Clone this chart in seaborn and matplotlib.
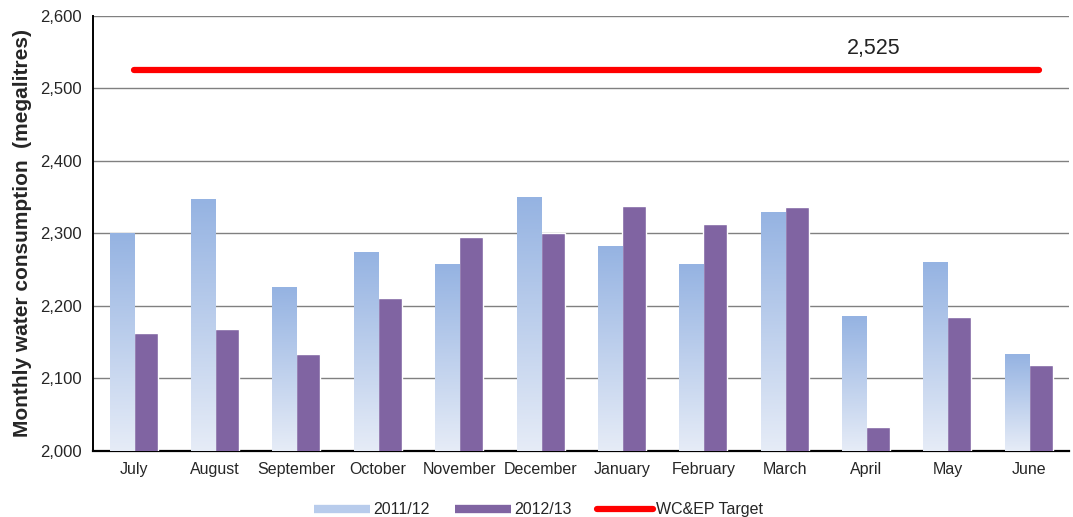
import numpy as np
import pandas as pd
import matplotlib
matplotlib.use("Agg")
import matplotlib.pyplot as plt
import seaborn as sns
from matplotlib.colors import LinearSegmentedColormap
from matplotlib.lines import Line2D
from matplotlib.ticker import FuncFormatter

months = ["July", "August", "September", "October", "November", "December",
          "January", "February", "March", "April", "May", "June"]
use_2011 = [2300, 2347, 2226, 2274, 2258, 2350, 2283, 2258, 2330, 2186, 2260, 2133]
use_2012 = [2163, 2168, 2134, 2211, 2295, 2300, 2338, 2313, 2337, 2033, 2184, 2119]
target = 2525
series = ["2011/12", "2012/13"]

df = pd.DataFrame({
    "month": months * 2,
    "value": use_2011 + use_2012,
    "year": [series[0]] * 12 + [series[1]] * 12,
})

sns.set_style("white")
plt.rcParams["font.family"] = ["Liberation Sans", "DejaVu Sans"]

fig = plt.figure(figsize=(10.73, 5.17), dpi=100)
ax = fig.add_axes([0.0867, 0.128, 0.91, 0.841])

purple = "#8064A2"
sns.barplot(data=df, x="month", y="value", hue="year", order=months,
            hue_order=series, palette=["#A5BDE5", purple], width=0.59,
            gap=0, saturation=1, legend=False, ax=ax, zorder=3)

ax.set_ylim(2000, 2600)

# gradient fill for the 2011/12 bars
grad = LinearSegmentedColormap.from_list("g", ["#E6ECF7", "#95B3E2"])
for bar in ax.containers[0]:
    x0, w, h = bar.get_x(), bar.get_width(), bar.get_height()
    img = ax.imshow(np.linspace(0, 1, 256).reshape(-1, 1), cmap=grad,
                    extent=[x0, x0 + w, 2000, h], origin="lower",
                    aspect="auto", zorder=3)
    img.set_clip_path(bar)
    bar.set_facecolor("none")
    bar.set_edgecolor("#DCE5F5")
    bar.set_linewidth(0.6)
ax.set_xlim(-0.5, 11.5)
ax.set_ylim(2000, 2600)

ax.plot([0, 11.12], [target, target], color="#FF0000", lw=4.5,
        solid_capstyle="round", zorder=4)
ax.text(9.1, 2555, "2,525", fontsize=15.5, ha="center", va="center", color="#222222")

ax.set_yticks(range(2000, 2601, 100))
ax.yaxis.set_major_formatter(FuncFormatter(lambda v, p: f"{int(v):,}"))
ax.grid(axis="y", color="#808080", lw=1, zorder=0)
ax.set_axisbelow(True)

ax.set_xticks(range(12))
ax.set_xticklabels(months, fontsize=11.5)
ax.set_xticks(np.arange(-0.5, 12, 1), minor=True)
ax.tick_params(axis="x", which="major", length=0, pad=8)
ax.tick_params(axis="x", which="minor", length=5, width=1.2, color="black", direction="out")
ax.tick_params(axis="y", length=5, width=1, color="black", direction="out",
               labelsize=12, pad=3)

for s in ["top", "right"]:
    ax.spines[s].set_visible(False)
ax.spines["left"].set_color("black")
ax.spines["left"].set_linewidth(1.4)
ax.spines["bottom"].set_color("black")
ax.spines["bottom"].set_linewidth(1.6)

ax.set_xlabel("")
ax.set_ylabel("Monthly water consumption  (megalitres)", fontsize=15,
              fontweight="bold", labelpad=6)

handles = [Line2D([], [], color="#B8CCEC", lw=6, solid_capstyle="butt"),
           Line2D([], [], color=purple, lw=6, solid_capstyle="butt"),
           Line2D([], [], color="#FF0000", lw=4.5, solid_capstyle="round")]
fig.legend(handles, ["2011/12", "2012/13", "WC&EP Target"], loc="lower center",
           bbox_to_anchor=(0.502, -0.028), ncol=3, frameon=False, fontsize=11.5,
           handlelength=3.5, columnspacing=1.6, handletextpad=0.2)

fig.savefig("out.png", dpi=100)
